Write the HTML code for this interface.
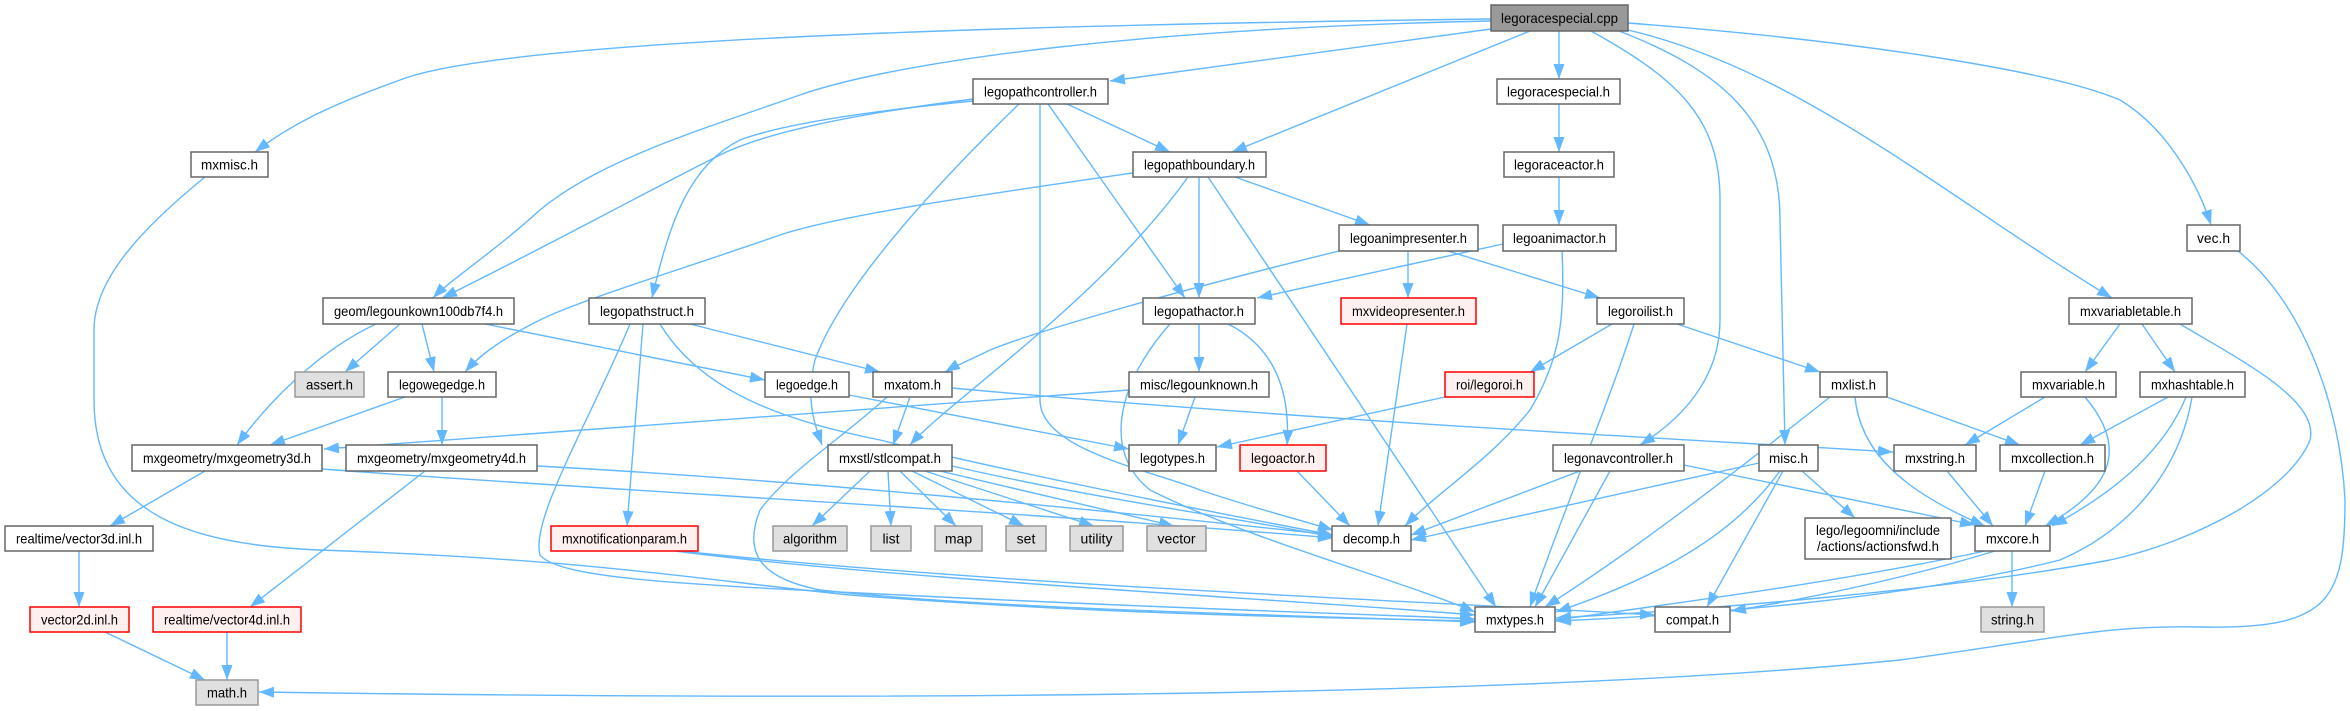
<!DOCTYPE html>
<html><head><meta charset="utf-8"><style>
html,body{margin:0;padding:0;background:#fff;}
svg{display:block;}
text{font-family:"Liberation Sans",sans-serif;font-size:14px;fill:#000;}
.e{fill:none;stroke:#63b8ff;stroke-width:1.4;marker-end:url(#a);}
.n{fill:#fff;stroke:#666;stroke-width:1.5;}
.g{fill:#e0e0e0;stroke:#999;stroke-width:1.5;}
.r{fill:#fff0f0;stroke:#f00;stroke-width:1.5;}
.root{fill:#999;stroke:#666;stroke-width:1.5;}
</style></head><body>
<svg width="2350" height="711" viewBox="0 0 2350 711" xmlns="http://www.w3.org/2000/svg">
<defs><marker id="a" markerUnits="userSpaceOnUse" markerWidth="16" markerHeight="12" refX="15" refY="5.5" orient="auto"><path d="M0,0 L15,5.5 L0,11 z" fill="#63b8ff"/></marker></defs>
<g>
<path class="e" d="M1491,29 L1110,81"/>
<path class="e" d="M1559,31 L1559,79"/>
<path class="e" d="M1530,31 L1232,152"/>
<path class="e" d="M1491,19 C1000,25 500,40 400,80 C330,105 290,125 255,152"/>
<path class="e" d="M1491,21 C1150,28 900,60 800,95 C700,130 600,160 540,210 C490,255 450,280 433,298"/>
<path class="e" d="M973,99 C870,112 770,130 720,155 C640,195 540,250 442,298"/>
<path class="e" d="M973,101 C860,112 780,125 740,140 C690,165 670,220 652,298"/>
<path class="e" d="M1019,104 C930,190 840,290 815,360 C805,400 815,425 822,445"/>
<path class="e" d="M1040,104 L1040,400 C1040,450 1150,470 1200,490 C1260,510 1300,520 1333,530"/>
<path class="e" d="M1067,104 L1170,152"/>
<path class="e" d="M1048,104 L1185,298"/>
<path class="e" d="M1188,177 C1100,300 950,400 910,445"/>
<path class="e" d="M1199,177 L1199,298"/>
<path class="e" d="M1235,177 L1370,225"/>
<path class="e" d="M1208,177 L1496,607"/>
<path class="e" d="M1133,173 C980,195 840,215 780,235 C680,270 580,300 540,320 C500,340 480,355 465,372"/>
<path class="e" d="M1559,104 L1559,152"/>
<path class="e" d="M1559,177 L1559,225"/>
<path class="e" d="M1503,244 L1257,298"/>
<path class="e" d="M1562,251 C1565,320 1560,360 1530,410 C1490,460 1440,490 1405,526"/>
<path class="e" d="M1408,251 L1408,298"/>
<path class="e" d="M1448,251 L1600,298"/>
<path class="e" d="M1339,251 C1180,290 1040,330 990,350 C970,360 955,366 945,372"/>
<path class="e" d="M1407,324 L1378,526"/>
<path class="e" d="M690,324 L880,372"/>
<path class="e" d="M643,324 L627,526"/>
<path class="e" d="M630,324 C590,420 530,520 540,555 C560,580 700,585 900,595 C1200,610 1400,615 1475,619"/>
<path class="e" d="M660,324 C700,390 780,420 880,440 C1000,470 1200,510 1333,535"/>
<path class="e" d="M400,324 L345,372"/>
<path class="e" d="M422,324 L434,372"/>
<path class="e" d="M376,324 C320,350 270,400 237,445"/>
<path class="e" d="M485,324 L765,380"/>
<path class="e" d="M405,397 L270,445"/>
<path class="e" d="M442,397 L442,445"/>
<path class="e" d="M849,395 L1129,449"/>
<path class="e" d="M910,397 L893,445"/>
<path class="e" d="M887,397 C840,440 790,470 760,510 C740,560 770,580 820,590 C1000,610 1300,615 1475,622"/>
<path class="e" d="M952,388 C1300,420 1700,440 1893,452"/>
<path class="e" d="M1129,390 L324,449"/>
<path class="e" d="M1195,397 L1178,445"/>
<path class="e" d="M1445,397 L1217,447"/>
<path class="e" d="M1199,324 L1199,372"/>
<path class="e" d="M1228,324 C1280,350 1290,400 1287,445"/>
<path class="e" d="M1170,324 C1120,380 1100,450 1150,490 C1250,540 1400,580 1475,612"/>
<path class="e" d="M1297,471 L1350,526"/>
<path class="e" d="M1612,324 L1530,372"/>
<path class="e" d="M1634,324 C1610,400 1560,520 1530,607"/>
<path class="e" d="M1677,324 L1820,372"/>
<path class="e" d="M2120,324 L2085,372"/>
<path class="e" d="M2142,324 L2175,372"/>
<path class="e" d="M2180,324 C2240,360 2320,400 2310,440 C2290,490 2200,540 2110,560 C1950,590 1700,610 1556,618"/>
<path class="e" d="M2192,397 C2180,470 2130,530 2060,560 C1900,600 1700,615 1556,621"/>
<path class="e" d="M2238,251 C2300,300 2340,400 2345,500 C2345,600 2330,630 2200,627 C2100,625 2050,640 1900,660 C1500,700 800,700 259,692"/>
<path class="e" d="M205,177 C140,230 94,280 94,330 L94,400 C94,520 200,545 320,550 C600,560 700,580 850,595 C1100,615 1350,618 1475,621"/>
<path class="e" d="M870,471 L812,526"/>
<path class="e" d="M888,471 L891,526"/>
<path class="e" d="M900,471 L956,526"/>
<path class="e" d="M912,471 L1024,526"/>
<path class="e" d="M925,471 L1094,526"/>
<path class="e" d="M940,471 L1174,526"/>
<path class="e" d="M952,466 C1100,500 1250,520 1333,537"/>
<path class="e" d="M205,471 L110,526"/>
<path class="e" d="M322,469 C600,490 1000,510 1333,538"/>
<path class="e" d="M425,471 L250,607"/>
<path class="e" d="M537,466 C800,480 1100,510 1333,535"/>
<path class="e" d="M79,551 L79,607"/>
<path class="e" d="M105,632 L205,680"/>
<path class="e" d="M227,632 L227,680"/>
<path class="e" d="M675,551 C900,580 1300,600 1475,615"/>
<path class="e" d="M680,551 C1000,585 1400,600 1655,615"/>
<path class="e" d="M1580,471 L1411,535"/>
<path class="e" d="M1610,471 L1535,607"/>
<path class="e" d="M1684,465 L1975,525"/>
<path class="e" d="M1759,463 L1411,540"/>
<path class="e" d="M1802,471 L1855,518"/>
<path class="e" d="M1780,471 C1730,540 1650,580 1556,612"/>
<path class="e" d="M1783,471 L1707,607"/>
<path class="e" d="M1855,397 C1860,450 1900,490 1985,526"/>
<path class="e" d="M1887,397 L2020,445"/>
<path class="e" d="M1830,397 C1750,460 1650,540 1545,607"/>
<path class="e" d="M2045,397 L1965,445"/>
<path class="e" d="M2085,397 C2130,450 2110,490 2045,526"/>
<path class="e" d="M2168,397 L2080,445"/>
<path class="e" d="M2186,397 C2160,460 2100,500 2052,526"/>
<path class="e" d="M1947,471 L1993,526"/>
<path class="e" d="M2045,471 L2025,526"/>
<path class="e" d="M2012,551 L2012,607"/>
<path class="e" d="M1985,551 C1850,580 1700,600 1556,620"/>
<path class="e" d="M1995,551 C1900,580 1800,600 1731,611"/>
<path class="e" d="M1591,31 C1680,80 1720,120 1720,200 L1720,320 C1720,380 1680,420 1640,445"/>
<path class="e" d="M1619,31 C1720,70 1780,120 1780,220 L1785,445"/>
<path class="e" d="M1628,30 C1800,70 1950,200 2112,298"/>
<path class="e" d="M1628,23 C1850,40 2050,70 2120,100 C2170,130 2200,190 2211,225"/>
</g>
<g>
<rect class="root" x="1491" y="5" width="137" height="26"/><text x="1559.5" y="23" text-anchor="middle" textLength="117" lengthAdjust="spacingAndGlyphs">legoracespecial.cpp</text>
<rect class="n" x="973" y="79" width="135" height="25"/><text x="1040.5" y="96.5" text-anchor="middle" textLength="113" lengthAdjust="spacingAndGlyphs">legopathcontroller.h</text>
<rect class="n" x="1497" y="79" width="123" height="25"/><text x="1558.5" y="96.5" text-anchor="middle" textLength="103" lengthAdjust="spacingAndGlyphs">legoracespecial.h</text>
<rect class="n" x="191" y="152" width="77" height="25"/><text x="229.5" y="169.5" text-anchor="middle" textLength="57" lengthAdjust="spacingAndGlyphs">mxmisc.h</text>
<rect class="n" x="1133" y="152" width="133" height="25"/><text x="1199.5" y="169.5" text-anchor="middle" textLength="111" lengthAdjust="spacingAndGlyphs">legopathboundary.h</text>
<rect class="n" x="1504" y="152" width="110" height="25"/><text x="1559" y="169.5" text-anchor="middle" textLength="90" lengthAdjust="spacingAndGlyphs">legoraceactor.h</text>
<rect class="n" x="1339" y="225" width="139" height="26"/><text x="1408.5" y="243" text-anchor="middle" textLength="117" lengthAdjust="spacingAndGlyphs">legoanimpresenter.h</text>
<rect class="n" x="1503" y="225" width="113" height="26"/><text x="1559.5" y="243" text-anchor="middle" textLength="93" lengthAdjust="spacingAndGlyphs">legoanimactor.h</text>
<rect class="n" x="2187" y="225" width="53" height="26"/><text x="2213.5" y="243" text-anchor="middle" textLength="33" lengthAdjust="spacingAndGlyphs">vec.h</text>
<rect class="n" x="323" y="298" width="191" height="26"/><text x="418.5" y="316" text-anchor="middle" textLength="169" lengthAdjust="spacingAndGlyphs">geom/legounkown100db7f4.h</text>
<rect class="n" x="589" y="298" width="116" height="26"/><text x="647" y="316" text-anchor="middle" textLength="94" lengthAdjust="spacingAndGlyphs">legopathstruct.h</text>
<rect class="n" x="1143" y="298" width="112" height="26"/><text x="1199" y="316" text-anchor="middle" textLength="90" lengthAdjust="spacingAndGlyphs">legopathactor.h</text>
<rect class="r" x="1341" y="298" width="135" height="26"/><text x="1408.5" y="316" text-anchor="middle" textLength="113" lengthAdjust="spacingAndGlyphs">mxvideopresenter.h</text>
<rect class="n" x="1597" y="298" width="87" height="26"/><text x="1640.5" y="316" text-anchor="middle" textLength="65" lengthAdjust="spacingAndGlyphs">legoroilist.h</text>
<rect class="n" x="2069" y="298" width="123" height="26"/><text x="2130.5" y="316" text-anchor="middle" textLength="101" lengthAdjust="spacingAndGlyphs">mxvariabletable.h</text>
<rect class="g" x="295" y="372" width="69" height="25"/><text x="329.5" y="389.5" text-anchor="middle" textLength="47" lengthAdjust="spacingAndGlyphs">assert.h</text>
<rect class="n" x="388" y="372" width="108" height="25"/><text x="442" y="389.5" text-anchor="middle" textLength="86" lengthAdjust="spacingAndGlyphs">legowegedge.h</text>
<rect class="n" x="765" y="372" width="84" height="25"/><text x="807" y="389.5" text-anchor="middle" textLength="62" lengthAdjust="spacingAndGlyphs">legoedge.h</text>
<rect class="n" x="873" y="372" width="79" height="25"/><text x="912.5" y="389.5" text-anchor="middle" textLength="57" lengthAdjust="spacingAndGlyphs">mxatom.h</text>
<rect class="n" x="1129" y="372" width="140" height="25"/><text x="1199" y="389.5" text-anchor="middle" textLength="118" lengthAdjust="spacingAndGlyphs">misc/legounknown.h</text>
<rect class="r" x="1445" y="372" width="89" height="25"/><text x="1489.5" y="389.5" text-anchor="middle" textLength="67" lengthAdjust="spacingAndGlyphs">roi/legoroi.h</text>
<rect class="n" x="1820" y="372" width="67" height="25"/><text x="1853.5" y="389.5" text-anchor="middle" textLength="45" lengthAdjust="spacingAndGlyphs">mxlist.h</text>
<rect class="n" x="2021" y="372" width="95" height="25"/><text x="2068.5" y="389.5" text-anchor="middle" textLength="73" lengthAdjust="spacingAndGlyphs">mxvariable.h</text>
<rect class="n" x="2140" y="372" width="105" height="25"/><text x="2192.5" y="389.5" text-anchor="middle" textLength="83" lengthAdjust="spacingAndGlyphs">mxhashtable.h</text>
<rect class="n" x="132" y="445" width="190" height="26"/><text x="227" y="463" text-anchor="middle" textLength="168" lengthAdjust="spacingAndGlyphs">mxgeometry/mxgeometry3d.h</text>
<rect class="n" x="346" y="445" width="191" height="26"/><text x="441.5" y="463" text-anchor="middle" textLength="169" lengthAdjust="spacingAndGlyphs">mxgeometry/mxgeometry4d.h</text>
<rect class="n" x="828" y="445" width="124" height="26"/><text x="890" y="463" text-anchor="middle" textLength="102" lengthAdjust="spacingAndGlyphs">mxstl/stlcompat.h</text>
<rect class="n" x="1129" y="445" width="87" height="26"/><text x="1172.5" y="463" text-anchor="middle" textLength="65" lengthAdjust="spacingAndGlyphs">legotypes.h</text>
<rect class="r" x="1240" y="445" width="86" height="26"/><text x="1283" y="463" text-anchor="middle" textLength="64" lengthAdjust="spacingAndGlyphs">legoactor.h</text>
<rect class="n" x="1553" y="445" width="131" height="26"/><text x="1618.5" y="463" text-anchor="middle" textLength="109" lengthAdjust="spacingAndGlyphs">legonavcontroller.h</text>
<rect class="n" x="1759" y="445" width="59" height="26"/><text x="1788.5" y="463" text-anchor="middle" textLength="39" lengthAdjust="spacingAndGlyphs">misc.h</text>
<rect class="n" x="1894" y="445" width="82" height="26"/><text x="1935" y="463" text-anchor="middle" textLength="60" lengthAdjust="spacingAndGlyphs">mxstring.h</text>
<rect class="n" x="2000" y="445" width="105" height="26"/><text x="2052.5" y="463" text-anchor="middle" textLength="83" lengthAdjust="spacingAndGlyphs">mxcollection.h</text>
<rect class="n" x="5" y="526" width="148" height="25"/><text x="79" y="543.5" text-anchor="middle" textLength="126" lengthAdjust="spacingAndGlyphs">realtime/vector3d.inl.h</text>
<rect class="r" x="551" y="526" width="147" height="25"/><text x="624.5" y="543.5" text-anchor="middle" textLength="125" lengthAdjust="spacingAndGlyphs">mxnotificationparam.h</text>
<rect class="g" x="773" y="526" width="74" height="25"/><text x="810" y="543.5" text-anchor="middle" textLength="54" lengthAdjust="spacingAndGlyphs">algorithm</text>
<rect class="g" x="871" y="526" width="40" height="25"/><text x="891" y="543.5" text-anchor="middle">list</text>
<rect class="g" x="935" y="526" width="47" height="25"/><text x="958.5" y="543.5" text-anchor="middle">map</text>
<rect class="g" x="1006" y="526" width="40" height="25"/><text x="1026" y="543.5" text-anchor="middle">set</text>
<rect class="g" x="1070" y="526" width="53" height="25"/><text x="1096.5" y="543.5" text-anchor="middle">utility</text>
<rect class="g" x="1147" y="526" width="59" height="25"/><text x="1176.5" y="543.5" text-anchor="middle">vector</text>
<rect class="n" x="1332" y="526" width="79" height="25"/><text x="1371.5" y="543.5" text-anchor="middle" textLength="57" lengthAdjust="spacingAndGlyphs">decomp.h</text>
<rect class="n" x="1805" y="518" width="146" height="41"/><text x="1878" y="535" text-anchor="middle" textLength="124" lengthAdjust="spacingAndGlyphs">lego/legoomni/include</text><text x="1878" y="551" text-anchor="middle" textLength="122" lengthAdjust="spacingAndGlyphs">/actions/actionsfwd.h</text>
<rect class="n" x="1975" y="526" width="75" height="25"/><text x="2012.5" y="543.5" text-anchor="middle" textLength="53" lengthAdjust="spacingAndGlyphs">mxcore.h</text>
<rect class="r" x="30" y="607" width="99" height="25"/><text x="79.5" y="624.5" text-anchor="middle" textLength="77" lengthAdjust="spacingAndGlyphs">vector2d.inl.h</text>
<rect class="r" x="153" y="607" width="148" height="25"/><text x="227" y="624.5" text-anchor="middle" textLength="126" lengthAdjust="spacingAndGlyphs">realtime/vector4d.inl.h</text>
<rect class="n" x="1475" y="607" width="80" height="25"/><text x="1515" y="624.5" text-anchor="middle" textLength="58" lengthAdjust="spacingAndGlyphs">mxtypes.h</text>
<rect class="n" x="1655" y="607" width="75" height="25"/><text x="1692.5" y="624.5" text-anchor="middle" textLength="53" lengthAdjust="spacingAndGlyphs">compat.h</text>
<rect class="g" x="1981" y="607" width="63" height="25"/><text x="2012.5" y="624.5" text-anchor="middle" textLength="43" lengthAdjust="spacingAndGlyphs">string.h</text>
<rect class="g" x="196" y="680" width="62" height="25"/><text x="227" y="697.5" text-anchor="middle" textLength="40" lengthAdjust="spacingAndGlyphs">math.h</text>
</g>
</svg>
</body></html>
